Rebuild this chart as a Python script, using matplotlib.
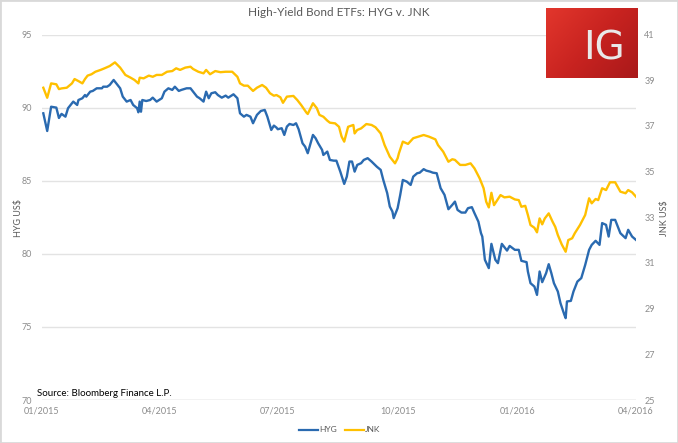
"""High-yield bond ETFs: HYG vs JNK, Jan 2015 - Mar 2016."""

import matplotlib

matplotlib.use("Agg")
import matplotlib.pyplot as plt
import matplotlib.dates as mdates
import numpy as np
import pandas as pd
from matplotlib.colors import LinearSegmentedColormap
from matplotlib.lines import Line2D
from matplotlib.patches import Rectangle

plt.rcParams["font.family"] = ["Lato", "DejaVu Sans"]

START = pd.Timestamp("2015-01-01")

# HYG (left axis) - days since 2015-01-01 and price
hyg_day = [
    1, 4, 7, 11, 13, 15, 18, 20, 24, 27,
    28, 31, 33, 34, 37, 39, 42, 46, 47, 50,
    52, 55, 57, 60, 62, 65, 68, 70, 73, 74,
    75, 76, 77, 80, 83, 85, 88, 92, 94, 97,
    100, 102, 105, 107, 111, 114, 116, 119, 121, 124,
    126, 128, 130, 133, 135, 138, 141, 143, 147, 150,
    152, 155, 157, 160, 162, 165, 168, 171, 173, 176,
    178, 180, 181, 184, 186, 188, 190, 193, 195, 197,
    200, 202, 204, 208, 210, 212, 215, 216, 219, 221,
    224, 226, 229, 232, 234, 236, 238, 240, 242, 245,
    247, 250, 253, 257, 260, 262, 265, 267, 269, 270,
    273, 275, 277, 280, 283, 285, 288, 290, 293, 295,
    298, 300, 303, 306, 309, 312, 315, 317, 319, 322,
    325, 327, 330, 332, 335, 337, 338, 340, 343, 345,
    348, 350, 353, 357, 359, 363, 366, 368, 372, 373,
    375, 378, 380, 382, 384, 387, 389, 391, 393, 396,
    398, 401, 402, 403, 406, 408, 411, 414, 417, 420,
    422, 425, 428, 430, 433, 435, 437, 440, 444, 448,
    450, 453, 456,
]
hyg_price = [
    89.61, 88.40, 90.06, 90.00, 89.29, 89.57, 89.38, 89.96, 90.41, 90.18,
    90.52, 90.64, 90.86, 90.75, 91.09, 91.14, 91.32, 91.32, 91.43, 91.43,
    91.55, 91.89, 91.66, 91.32, 90.75, 90.41, 90.52, 90.18, 89.96, 89.68,
    90.41, 89.72, 90.52, 90.45, 90.52, 90.68, 90.41, 90.64, 91.09, 91.32,
    91.21, 91.43, 91.14, 91.21, 91.32, 91.32, 91.09, 90.75, 90.64, 90.41,
    91.09, 90.64, 90.98, 91.05, 90.86, 90.68, 90.82, 90.68, 90.91, 90.64,
    89.61, 89.38, 89.50, 89.38, 88.93, 89.50, 89.77, 89.84, 89.38, 88.47,
    88.77, 88.63, 88.52, 88.59, 88.13, 88.70, 88.88, 88.81, 88.93, 88.52,
    87.56, 87.33, 86.88, 88.13, 87.91, 87.56, 87.11, 86.76, 86.99, 86.42,
    86.37, 86.37, 85.62, 84.78, 85.28, 86.31, 86.31, 85.62, 86.08, 86.20,
    86.42, 86.54, 86.31, 85.96, 85.74, 85.05, 84.15, 83.23, 82.89, 82.44,
    83.12, 84.03, 85.05, 84.94, 84.71, 85.28, 85.51, 85.55, 85.79, 85.69,
    85.62, 85.55, 85.51, 84.49, 84.03, 83.05, 83.35, 83.57, 83.00, 82.82,
    82.82, 83.12, 83.19, 82.78, 82.20, 81.41, 81.18, 79.59, 79.02, 80.68,
    79.59, 79.36, 80.68, 80.22, 80.54, 80.27, 80.27, 79.52, 79.43, 78.79,
    77.99, 77.76, 77.19, 78.79, 78.06, 78.68, 79.29, 78.68, 77.99, 77.42,
    76.63, 75.83, 75.60, 76.74, 76.78, 77.42, 78.10, 78.34, 79.24, 80.27,
    80.61, 80.89, 80.61, 82.10, 81.98, 81.18, 82.32, 82.32, 81.41, 81.07,
    81.64, 81.18, 80.95,
]

# JNK (right axis)
jnk_day = [
    1, 4, 7, 11, 13, 15, 19, 23, 25, 28,
    31, 33, 35, 38, 41, 45, 48, 52, 56, 60,
    64, 68, 71, 74, 75, 78, 82, 85, 88, 92,
    96, 100, 103, 106, 110, 114, 116, 120, 124, 126,
    129, 133, 137, 141, 146, 150, 152, 155, 158, 162,
    165, 169, 172, 175, 178, 180, 183, 185, 188, 193,
    196, 199, 203, 204, 208, 211, 213, 216, 219, 221,
    225, 228, 230, 232, 235, 239, 240, 242, 245, 249,
    253, 256, 260, 263, 267, 271, 273, 274, 277, 281,
    285, 289, 293, 297, 302, 304, 308, 312, 315, 317,
    321, 325, 329, 332, 336, 339, 341, 343, 345, 347,
    352, 355, 359, 363, 366, 368, 371, 373, 375, 378,
    380, 382, 384, 386, 389, 392, 394, 396, 399, 402,
    404, 407, 409, 413, 417, 420, 422, 425, 427, 430,
    433, 436, 440, 444, 448, 450, 453, 456,
]
jnk_price = [
    38.67, 38.23, 38.86, 38.82, 38.61, 38.64, 38.67, 38.86, 39.05, 38.96,
    38.86, 39.05, 39.20, 39.26, 39.37, 39.45, 39.52, 39.62, 39.78, 39.55,
    39.23, 39.11, 39.01, 38.86, 39.11, 39.08, 39.20, 39.15, 39.23, 39.23,
    39.37, 39.40, 39.52, 39.45, 39.55, 39.59, 39.49, 39.37, 39.30, 39.45,
    39.26, 39.40, 39.35, 39.37, 39.37, 39.15, 38.86, 38.76, 38.76, 38.53,
    38.67, 38.79, 38.67, 38.43, 38.32, 38.35, 38.25, 38.01, 38.28, 38.31,
    38.13, 37.91, 37.58, 37.52, 37.99, 37.77, 37.48, 37.40, 37.23, 37.14,
    37.11, 36.96, 36.53, 36.31, 36.96, 37.04, 36.67, 36.82, 36.89, 37.08,
    37.04, 36.94, 36.67, 36.16, 35.65, 35.36, 35.58, 35.80, 36.31, 36.21,
    36.46, 36.53, 36.60, 36.53, 36.41, 36.16, 35.87, 35.43, 35.54, 35.51,
    35.29, 35.29, 35.36, 35.14, 34.70, 34.27, 33.68, 33.43, 34.07, 33.53,
    33.97, 33.87, 33.90, 33.78, 33.75, 33.46, 33.50, 33.10, 32.66, 32.54,
    32.34, 32.95, 32.69, 32.95, 33.17, 32.80, 32.58, 32.22, 31.81, 31.49,
    32.00, 32.08, 32.30, 32.66, 33.10, 33.83, 33.61, 33.80, 33.75, 34.27,
    34.19, 34.53, 34.53, 34.12, 34.05, 34.19, 34.09, 33.90,
]

x_ticks = ["2015-01-01", "2015-04-01", "2015-07-01", "2015-10-01", "2016-01-01", "2016-04-01"]
hyg_ticks = [70, 75, 80, 85, 90, 95]
jnk_ticks = [25, 27, 29, 31, 33, 35, 37, 39, 41]

BLUE = "#2a6ab0"
GOLD = "#ffc000"
TICK_GREY = "#8c8c8c"

hyg_dates = START + pd.to_timedelta(hyg_day, unit="D")
jnk_dates = START + pd.to_timedelta(jnk_day, unit="D")

W, H = 678, 443
fig = plt.figure(figsize=(W / 100, H / 100), dpi=100)
ax = fig.add_axes([42 / W, 1 - 400 / H, 594 / W, 365.5 / H])
ax2 = ax.twinx()

ax.plot(hyg_dates, hyg_price, color=BLUE, lw=1.7, solid_joinstyle="round", zorder=3)
ax2.plot(jnk_dates, jnk_price, color=GOLD, lw=1.7, solid_joinstyle="round", zorder=3)

ax.set_xlim(pd.Timestamp(x_ticks[0]), pd.Timestamp(x_ticks[-1]))
ax.set_ylim(hyg_ticks[0], hyg_ticks[-1])
ax2.set_ylim(jnk_ticks[0], jnk_ticks[-1])
ax.set_xticks(pd.to_datetime(x_ticks))
ax.xaxis.set_major_formatter(mdates.DateFormatter("%m/%Y"))
ax.set_yticks(hyg_ticks)
ax2.set_yticks(jnk_ticks)

ax.grid(axis="y", color="#e3e3e3", lw=1.0)
ax.set_axisbelow(True)
for a in (ax, ax2):
    for s in a.spines.values():
        s.set_visible(False)
    a.tick_params(length=0, labelsize=6.5, labelcolor=TICK_GREY)
ax.tick_params(axis="y", pad=7)
ax.tick_params(axis="x", pad=5)
ax2.tick_params(axis="y", pad=6)
ax.axhline(hyg_ticks[0], color="#d9d9d9", lw=1.0, zorder=1)

fig.text(0.5, 1 - 13 / H, "High-Yield Bond ETFs: HYG v. JNK", ha="center", va="center",
         fontsize=8.5, color="#595959")
fig.text(18 / W, 1 - 218 / H, "HYG US$", rotation=90, ha="center", va="center",
         fontsize=6.5, color="#595959")
fig.text(664 / W, 1 - 218 / H, "JNK US$", rotation=90, ha="center", va="center",
         fontsize=6.5, color="#595959")
fig.text(37 / W, 1 - 393 / H, "Source: Bloomberg Finance L.P.", ha="left", va="center",
         fontsize=7, color="black")

fig.legend(
    handles=[Line2D([], [], color=BLUE, lw=1.6, label="HYG"),
             Line2D([], [], color=GOLD, lw=1.6, label="JNK")],
    loc="center", bbox_to_anchor=(340 / W, 1 - 430 / H), ncol=2, frameon=False,
    fontsize=6, labelcolor="#595959", handlelength=2.2, handletextpad=0.2, columnspacing=1.0,
)

# IG logo block in the top-right corner
logo = fig.add_axes([546 / W, 1 - 78 / H, 91 / W, 70 / H])
red = LinearSegmentedColormap.from_list("ig", ["#e2362c", "#c82320", "#a9191a"])
gx, gy = np.meshgrid(np.linspace(0, 1, 60), np.linspace(0, 1, 60))
logo.imshow(0.6 * gx + 0.4 * gy, cmap=red, aspect="auto", extent=(0, 1, 0, 1))
logo.text(0.64, 0.42, "IG", ha="center", va="center", fontsize=28, color="#e9e9e9",
          family="DejaVu Sans", transform=logo.transAxes)
logo.set_axis_off()

fig.patches.append(Rectangle((0, 0), 1, 1, transform=fig.transFigure, fill=False,
                             edgecolor="#d9d9d9", lw=2))

fig.savefig("out.png", dpi=100, facecolor="white")
